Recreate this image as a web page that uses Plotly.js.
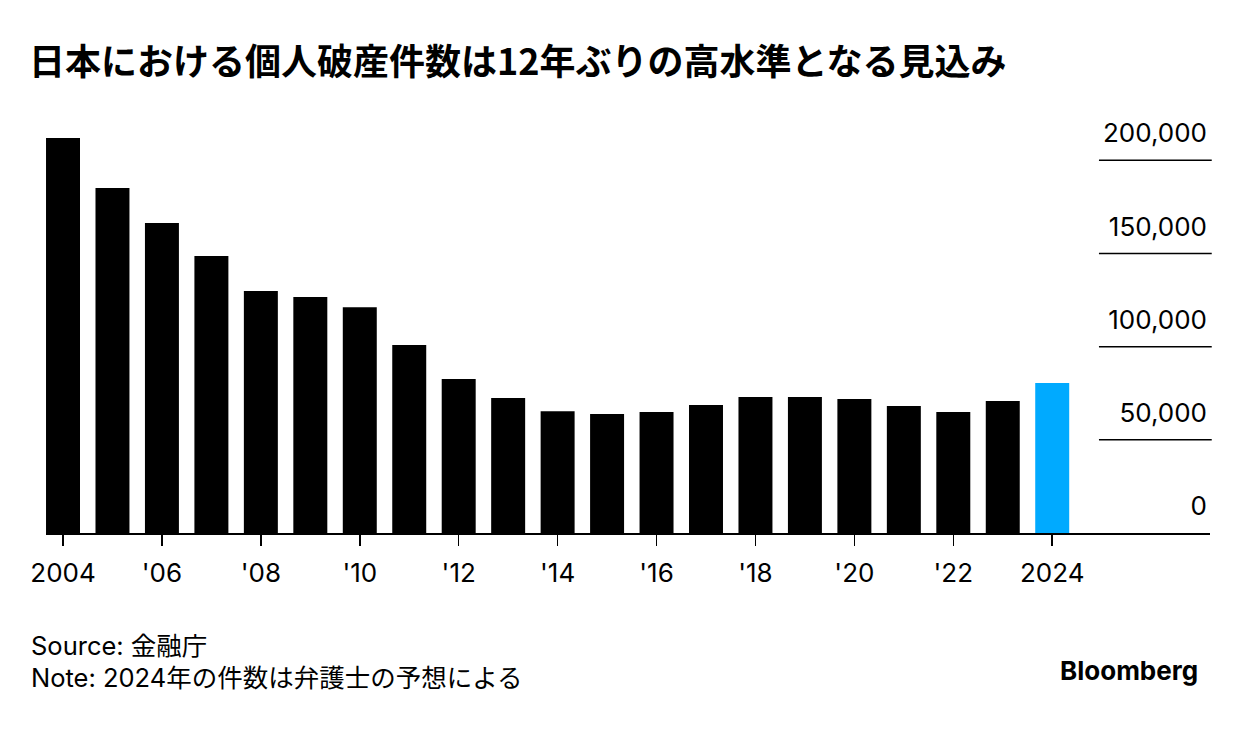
<!DOCTYPE html>
<html>
<head>
<meta charset="utf-8">
<script src="https://cdn.plot.ly/plotly-3.0.1.min.js"></script>
<style>html,body{margin:0;padding:0;background:#fff;}#chart{width:1240px;height:732px;}</style>
</head>
<body>
<div id="chart"></div>
<script>
// Data
const years = [2004,2005,2006,2007,2008,2009,2010,2011,2012,2013,2014,2015,2016,2017,2018,2019,2020,2021,2022,2023,2024];
const bankruptcies = [211900,185100,166300,148600,129800,126600,121200,100900,82600,72400,65400,63800,64900,68700,73000,73000,71900,68100,64900,70800,80500];
const forecastYear = 2024;
const xTickVals = [2004,2006,2008,2010,2012,2014,2016,2018,2020,2022,2024];
const xTickText = ["2004","'06","'08","'10","'12","'14","'16","'18","'20","'22","2024"];
const yTickVals = [0,50000,100000,150000,200000];
const yTickText = ["0","50,000","100,000","150,000","200,000"];
const titleText = "日本における個人破産件数は12年ぶりの高水準となる見込み";
const sourceText = "Source: 金融庁";
const noteText = "Note: 2024年の件数は弁護士の予想による";

const latin = "Inter, Liberation Sans, Noto Sans CJK JP, sans-serif";
const cjk = "Noto Sans CJK JP, Liberation Sans, sans-serif";

const colors = years.map(y => y === forecastYear ? '#00aaff' : '#000000');

const trace = {
  type: 'bar',
  x: years,
  y: bankruptcies,
  marker: {color: colors, line: {width: 0}},
  hoverinfo: 'x+y'
};

const gridShapes = yTickVals.filter(v => v > 0).map(v => ({
  type: 'line', xref: 'paper', yref: 'y',
  x0: 0.9046, x1: 1.0015, y0: v, y1: v,
  line: {color: '#000', width: 1.5}
}));

const plotBottom = 532.7, plotH = 446;
const py = p => (plotBottom - p) / plotH;

const layout = {
  width: 1240, height: 732,
  paper_bgcolor: '#fff', plot_bgcolor: '#fff',
  margin: {l: 46, r: 30, t: 732 - 199 - plotH, b: 199},
  bargap: 0.313,
  showlegend: false,
  title: {
    text: '<b>' + titleText + '</b>',
    font: {family: cjk, size: 36, color: '#000'},
    xref: 'container', x: 29/1240, xanchor: 'left',
    yref: 'container', y: 1 - 62/732, yanchor: 'middle'
  },
  xaxis: {
    range: [2003.656, 2027.19],
    tickvals: xTickVals, ticktext: xTickText,
    ticks: 'outside', ticklen: 11, tickwidth: 1.5, tickcolor: '#000',
    ticklabelstandoff: 5,
    showline: true, linecolor: '#000', linewidth: 1.5,
    showgrid: false, zeroline: false,
    tickfont: {family: latin, size: 26, color: '#000'},
    fixedrange: true
  },
  yaxis: {
    range: [0, plotH / 372.7 * 200000],
    side: 'right',
    tickvals: yTickVals, ticktext: yTickText,
    ticklabelposition: 'inside',
    ticklabelshift: -27,
    ticks: '',
    showline: false, showgrid: false, zeroline: false,
    tickfont: {family: latin, size: 26, color: '#000'},
    fixedrange: true
  },
  shapes: gridShapes,
  annotations: [
    {
      text: sourceText, xref: 'paper', yref: 'paper',
      x: -0.0146, y: py(645), xanchor: 'left', yanchor: 'middle', align: 'left',
      showarrow: false, font: {family: latin, size: 25.5, color: '#000'}
    },
    {
      text: noteText, xref: 'paper', yref: 'paper',
      x: -0.0146, y: py(677), xanchor: 'left', yanchor: 'middle', align: 'left',
      showarrow: false, font: {family: latin, size: 25.5, color: '#000'}
    },
    {
      text: '<b>Bloomberg</b>', xref: 'paper', yref: 'paper',
      x: 0.9914, y: py(670), xanchor: 'right', yanchor: 'middle',
      showarrow: false, font: {family: latin, size: 26, color: '#000'}
    }
  ]
};

Plotly.newPlot('chart', [trace], layout, {displayModeBar: false, staticPlot: true});
</script>
</body>
</html>
